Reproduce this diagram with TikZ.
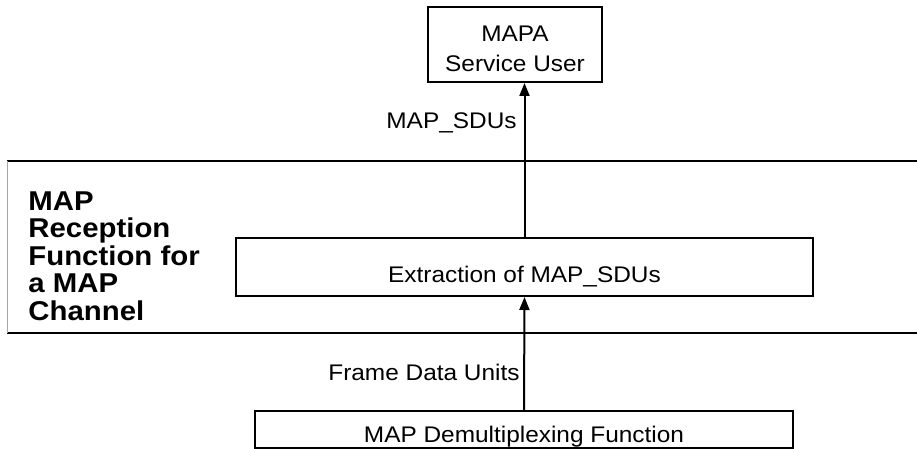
\documentclass[tikz,border=0pt]{standalone}
\usepackage{fontspec}
\setmainfont{Liberation Sans}[FakeStretch=1.08]
\usetikzlibrary{arrows.meta}
\begin{document}
\begin{tikzpicture}[x=0.5pt,y=-0.5pt,
  box/.style={draw,line width=1pt,inner sep=0pt,font=\fontsize{11.3}{15}\selectfont},
  arr/.style={line width=1pt,-{Triangle[length=6.5pt,width=5pt]}},
  lbl/.style={inner sep=0pt,font=\fontsize{11.3}{15}\selectfont},
  rule/.style={line width=1pt}]
\useasboundingbox (0,0) rectangle (917,449);
% layer rules
\coordinate (r1l) at (7,161);
\coordinate (r1r) at (917,161);
\coordinate (r2l) at (7,333);
\coordinate (r2r) at (917,333);
\draw[rule] (r1l) -- (r1r);
\draw[rule] (r2l) -- (r2r);
\draw[line width=0.4pt,black!35] (r1l) -- (r2l);
% boxes
\node[box,minimum width=87pt,minimum height=37.5pt] (top) at (515,44.5) {};
\node[lbl,align=center,anchor=base] (toptext) at (515,72) {MAPA\\Service User};
\node[box,minimum width=288.5pt,minimum height=29pt,text height=16pt,text depth=0pt] (mid) at (524.5,267) {Extraction of MAP\_SDUs};
\node[box,minimum width=269pt,minimum height=18.5pt,text height=12.5pt,text depth=0pt] (bot) at (524,429.5) {MAP Demultiplexing Function};
% arrows
\draw[arr] (mid.north) -- (mid.north |- top.south);
\draw[arr] (bot.north) -- (mid.south);
% labels
\node[lbl,anchor=base east] (l1) at (517,129) {MAP\_SDUs};
\node[lbl,anchor=base east] (l2) at (520,380) {Frame Data Units};
\node[inner sep=0pt,anchor=north west,align=left,font=\bfseries\fontsize{13.6}{13.75}\selectfont] (side) at (28,191) {MAP\\Reception\\Function for\\a MAP\\Channel};
\end{tikzpicture}
\end{document}
